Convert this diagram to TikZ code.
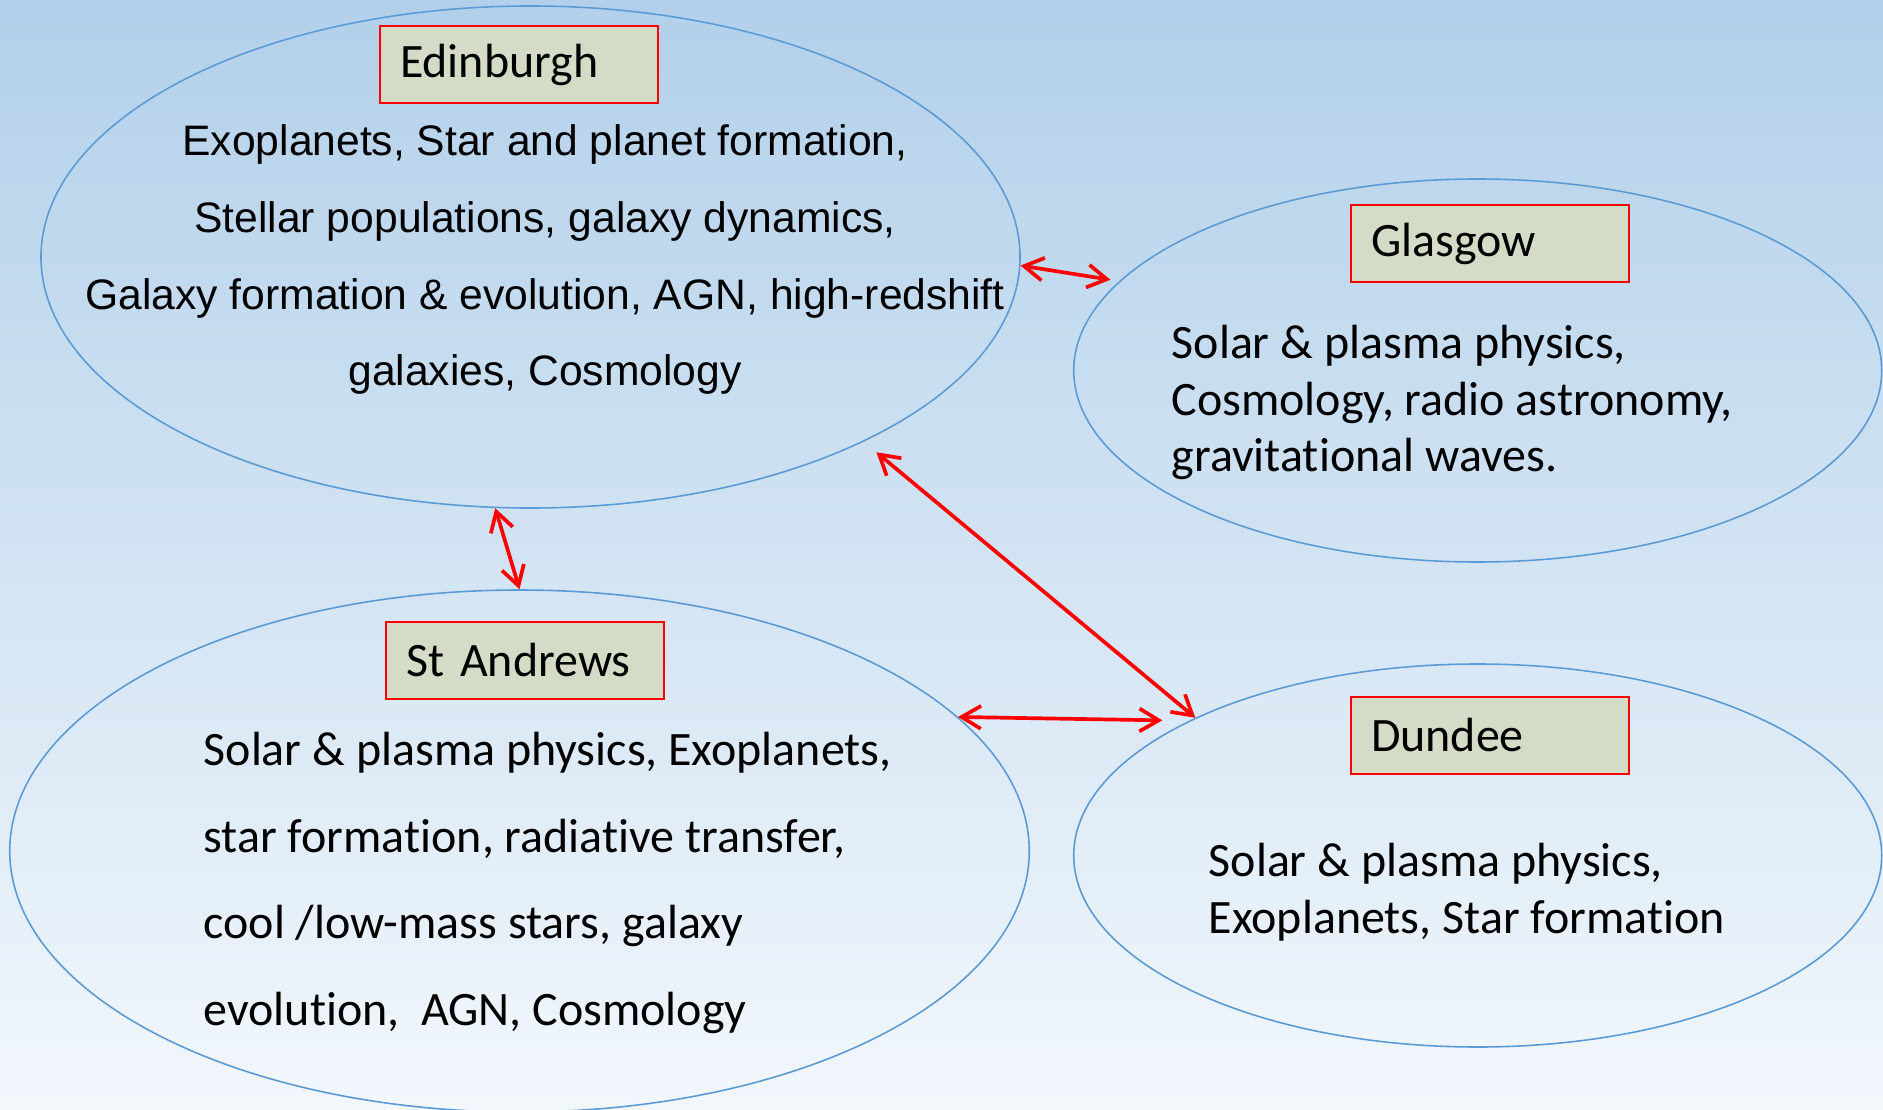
\documentclass[tikz,border=0pt]{standalone}
\usepackage{fontspec}
\setmainfont{Carlito}[Ligatures=CommonOff]
\newfontfamily\arialfont{Liberation Sans}
\usetikzlibrary{shapes.geometric,arrows.meta}
\definecolor{skytop}{RGB}{178,208,234}
\definecolor{skybottom}{RGB}{242,247,252}
\definecolor{rimblue}{RGB}{91,155,213}
\definecolor{tagfill}{RGB}{212,220,200}
\begin{document}
\begin{tikzpicture}
  \tikzstyle{every node}+=[inner sep=0pt]
  \tikzstyle{campus}=[ellipse, draw=rimblue, line width=0.45pt]
  \tikzstyle{tag}=[draw=red, line width=0.7pt, fill=tagfill, minimum height=0.77cm, text width=2.38cm, inner xsep=0.2cm, align=left, font=\fontsize{13.65}{16}\selectfont]
  \tikzstyle{topics}=[align=left, anchor=west, font=\fontsize{13.65}{16.2}\selectfont]
  \tikzstyle{link}=[red, line width=1.05pt, {Straight Barb[length=5.5pt,width=6.5pt]}-{Straight Barb[length=5.5pt,width=6.5pt]}]
  \useasboundingbox (0,0) rectangle (18.83,-11.09);
  \clip (0,0) rectangle (18.83,-11.09);
  \shade [top color=skytop, bottom color=skybottom] (0,0) rectangle (18.83,-11.09);
  \node [campus, minimum width=9.79cm, minimum height=5.02cm] (edi) at (5.305,-2.57) {};
  \node [campus, minimum width=8.08cm, minimum height=3.83cm] (gla) at (14.777,-3.705) {};
  \node [campus, minimum width=10.195cm, minimum height=5.22cm] (sta) at (5.195,-8.51) {};
  \node [campus, minimum width=8.08cm, minimum height=3.83cm] (dun) at (14.777,-8.555) {};
  \node [tag] (editag) at (5.19,-0.645) {Edinburgh};
  \node [tag] (glatag) at (14.90,-2.435) {Glasgow};
  \node [tag] (statag) at (5.25,-6.605) {St Andrews};
  \node [tag] (duntag) at (14.90,-7.355) {Dundee};
  \node [align=center, font=\arialfont\fontsize{12.13}{21.9}\selectfont] (edinotes) at (5.45,-2.595)
    {Exoplanets, Star and planet formation,\\ Stellar populations, galaxy dynamics,\\
     Galaxy formation \& evolution, AGN, high-redshift\\ galaxies, Cosmology};
  \node [topics] (glanotes) at (11.71,-4.025)
    {Solar \& plasma physics,\\ Cosmology, radio astronomy,\\ gravitational waves.};
  \node [topics, font=\fontsize{13.65}{24.6}\selectfont] (stanotes) at (2.03,-8.83)
    {Solar \& plasma physics, Exoplanets,\\ star formation, radiative transfer,\\
     cool /low-mass stars, galaxy\\ evolution,\ \ AGN, Cosmology};
  \node [topics] (dunnotes) at (12.08,-8.92)
    {Solar \& plasma physics,\\ Exoplanets, Star formation};
  \draw [link, shorten >=0.09cm] (edi.-1.7) -- (gla.166.9);
  \draw [link] (edi.262.2) -- (sta.90);
  \draw [link, shorten <=0.165cm] (edi.-29.3) -- (dun.154.4);
  \draw [link, shorten >=0.265cm] (sta.17.9) -- (dun.155.2);
\end{tikzpicture}
\end{document}
